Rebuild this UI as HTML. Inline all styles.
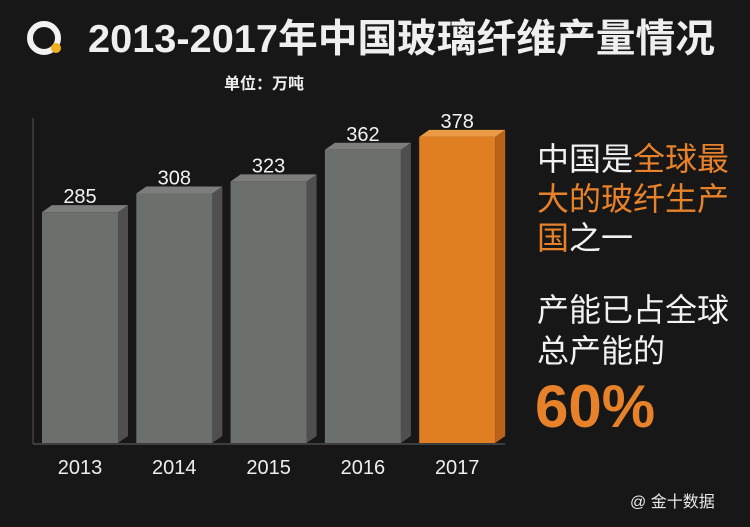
<!DOCTYPE html>
<html><head><meta charset="utf-8"><style>
body{margin:0;background:#171717;width:750px;height:522px;overflow:hidden;font-family:"Liberation Sans","Noto Sans CJK SC",sans-serif}
</style></head><body>
<svg width="750" height="522" xmlns="http://www.w3.org/2000/svg">
<rect width="750" height="522" fill="#171717"/>
<g>
<circle cx="44" cy="38" r="14" fill="none" stroke="#f2f2f2" stroke-width="6"/>
<circle cx="56" cy="48" r="5" fill="#f0b020"/>
</g>
<text x="88" y="52" fill="#efefef" font-size="39" font-weight="bold" textLength="627" lengthAdjust="spacingAndGlyphs">2013-2017年中国玻璃纤维产量情况</text>
<text x="224" y="89" fill="#eeeeee" font-size="16" font-weight="bold">单位：万吨</text>
<line x1="33" y1="118" x2="33" y2="444" stroke="#555" stroke-width="1"/>
<line x1="33" y1="444" x2="505" y2="444" stroke="#666" stroke-width="1"/>
<g id="bars"></g>
<g font-size="32">
<text x="537" y="170" fill="#f2f2f2">中国是<tspan fill="#e8822a">全球最</tspan></text>
<text x="537" y="210" fill="#e8822a">大的玻纤生产</text>
<text x="537" y="249" fill="#e8822a"><tspan>国</tspan><tspan fill="#f2f2f2">之一</tspan></text>
<text x="537" y="321" fill="#f2f2f2">产能已占全球</text>
<text x="537" y="362" fill="#f2f2f2">总产能的</text>
<text x="535" y="427" fill="#e8822a" font-size="60" font-weight="bold">60%</text>
</g>
<text x="630" y="507" fill="#e8e8e8" font-size="16">@ 金十数据</text>
</svg>
<script>
const categories=["2013","2014","2015","2016","2017"];
const values=[285,308,323,362,378];
const highlight=[false,false,false,false,true];
const ns="http://www.w3.org/2000/svg";
const base=443, scale=0.81, x0=42, step=94.3, bw=76, dx=10, dy=7;
const yPos=v=>base-v*scale;
const g=document.getElementById('bars');
function mk(t,a){const e=document.createElementNS(ns,t);for(const k in a)e.setAttribute(k,a[k]);return e;}
values.forEach((v,i)=>{
  const x=x0+i*step, y=yPos(v);
  const c=highlight[i]?["#e07f22","#b8621a","#ec9a45"]:["#6c706d","#4e4f4e","#7d7e7c"];
  const grp=mk('g',{});
  
  
  grp.appendChild(mk('polygon',{points:`${x+bw},${y} ${x+bw+dx},${y-dy} ${x+bw+dx},${base-dy} ${x+bw},${base}`,fill:c[1]}));
  grp.appendChild(mk('polygon',{points:`${x},${y} ${x+dx},${y-dy} ${x+bw+dx},${y-dy} ${x+bw},${y}`,fill:c[2]}));
  grp.appendChild(mk('rect',{x:x,y:y,width:bw,height:base-y,fill:c[0]}));
  g.appendChild(grp);
  const t=mk('text',{x:x+bw/2,y:y-9,fill:"#f2f2f2","font-size":20,"text-anchor":"middle"});
  
  
  t.textContent=v;g.appendChild(t);
  const l=mk('text',{x:x+bw/2,y:474,fill:"#eeeeee","font-size":20,"text-anchor":"middle"});
  
  
  l.textContent=categories[i];g.appendChild(l);
});
</script>
</body></html>
